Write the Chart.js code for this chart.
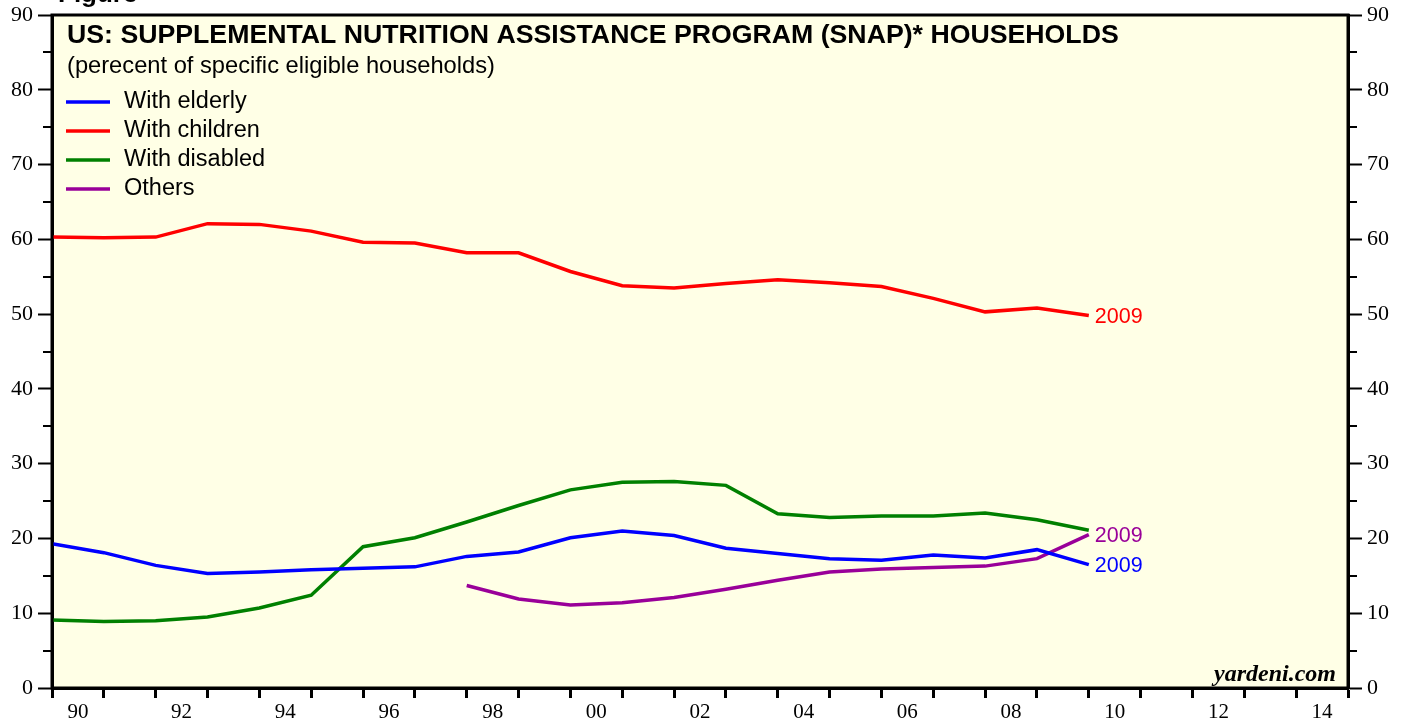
<!DOCTYPE html>
<html>
<head>
<meta charset="utf-8">
<script src="https://cdn.jsdelivr.net/npm/chart.js@4"></script>
<style>
  body { margin: 0; background: #fff; }
  canvas { display: block; }
</style>
</head>
<body>
<canvas id="snapChart" width="1408" height="719"></canvas>
<script>
// data years (each value is plotted at the end of its year)
const years = [1989, 1990, 1991, 1992, 1993, 1994, 1995, 1996, 1997, 1998, 1999,
               2000, 2001, 2002, 2003, 2004, 2005, 2006, 2007, 2008, 2009];

const withElderly = [19.3, 18.1, 16.4, 15.3, 15.5, 15.8, 16.0, 16.2, 17.6, 18.2, 20.1,
                     21.0, 20.4, 18.7, 18.0, 17.3, 17.1, 17.8, 17.4, 18.5, 16.5];
const withChildren = [60.3, 60.2, 60.3, 62.1, 62.0, 61.1, 59.6, 59.5, 58.2, 58.2, 55.7,
                      53.8, 53.5, 54.1, 54.6, 54.2, 53.7, 52.1, 50.3, 50.8, 49.8];
const withDisabled = [9.1, 8.9, 9.0, 9.5, 10.7, 12.4, 18.9, 20.1, 22.2, 24.4, 26.5,
                      27.5, 27.6, 27.1, 23.3, 22.8, 23.0, 23.0, 23.4, 22.5, 21.1];
const others = [null, null, null, null, null, null, null, null, 13.7, 11.9, 11.1,
                11.4, 12.1, 13.2, 14.4, 15.5, 15.9, 16.1, 16.3, 17.3, 20.5];

const xLabelYears = [1990, 1992, 1994, 1996, 1998, 2000, 2002, 2004, 2006, 2008, 2010, 2012, 2014];
const yTicks = [0, 10, 20, 30, 40, 50, 60, 70, 80, 90];

const titleText = 'US: SUPPLEMENTAL NUTRITION ASSISTANCE PROGRAM (SNAP)* HOUSEHOLDS';
const subtitleText = '(perecent of specific eligible households)';

function toPoints(values) {
    return values.map((v, i) => ({ x: years[i] + 1, y: v }));
}

function line(label, values, color, endLabel) {
    return {
        label: label,
        data: toPoints(values),
        borderColor: color,
        backgroundColor: color,
        borderWidth: 3.5,
        pointRadius: 0,
        tension: 0,
        spanGaps: false,
        endLabel: endLabel
    };
}

const serif = 'Liberation Serif, Times New Roman, serif';
const sans = 'Liberation Sans, Arial, sans-serif';

// background, border, minor ticks, title, legend, end labels
const decorPlugin = {
    id: 'decor',
    beforeDraw(chart) {
        const ctx = chart.ctx;
        const a = chart.chartArea;
        ctx.save();
        ctx.fillStyle = '#ffffff';
        ctx.fillRect(0, 0, chart.width, chart.height);
        ctx.fillStyle = 'rgb(255,255,230)';
        ctx.fillRect(a.left, a.top, a.right - a.left, a.bottom - a.top);
        // cut off figure caption at the very top
        ctx.fillStyle = '#000';
        ctx.font = 'bold 26px ' + sans;
        ctx.textBaseline = 'alphabetic';
        ctx.fillText('Figure', 58, 2);
        ctx.restore();
    },
    afterDatasetsDraw(chart) {
        const ctx = chart.ctx;
        const a = chart.chartArea;
        const ys = chart.scales.y;
        ctx.save();

        // frame
        ctx.strokeStyle = '#000';
        ctx.lineWidth = 3;
        ctx.strokeRect(a.left, a.top, a.right - a.left, a.bottom - a.top);

        // minor y ticks
        ctx.lineWidth = 2;
        for (let v = 5; v < 90; v += 10) {
            const py = Math.round(ys.getPixelForValue(v));
            ctx.beginPath();
            ctx.moveTo(a.left - 9, py);
            ctx.lineTo(a.left, py);
            ctx.moveTo(a.right, py);
            ctx.lineTo(a.right + 9, py);
            ctx.stroke();
        }

        // title + subtitle
        ctx.fillStyle = '#000';
        ctx.textBaseline = 'middle';
        ctx.textAlign = 'left';
        ctx.font = 'bold 26.7px ' + sans;
        ctx.fillText(titleText, a.left + 15, 36);
        ctx.font = '23.7px ' + sans;
        ctx.fillText(subtitleText, a.left + 15, 66);

        // legend
        chart.data.datasets.forEach((ds, i) => {
            const yy = 102 + i * 29;
            ctx.strokeStyle = ds.borderColor;
            ctx.lineWidth = 3.5;
            ctx.beginPath();
            ctx.moveTo(a.left + 14, yy);
            ctx.lineTo(a.left + 58, yy);
            ctx.stroke();
            ctx.fillStyle = '#000';
            ctx.font = '23.5px ' + sans;
            ctx.fillText(ds.label, a.left + 72, yy);
        });

        // end-of-line year labels
        ctx.font = '21.5px ' + sans;
        chart.data.datasets.forEach((ds, i) => {
            if (!ds.endLabel) return;
            const meta = chart.getDatasetMeta(i);
            const last = meta.data[meta.data.length - 1];
            ctx.fillStyle = ds.borderColor;
            ctx.fillText(String(years[years.length - 1]), last.x + 6, last.y + 1);
        });

        // watermark
        ctx.fillStyle = '#000';
        ctx.font = 'italic bold 24px ' + serif;
        ctx.textAlign = 'right';
        ctx.textBaseline = 'alphabetic';
        ctx.fillText('yardeni.com', a.right - 12, a.bottom - 7);
        ctx.restore();
    }
};

const yAxis = (position, width) => ({
    type: 'linear',
    position: position,
    min: 0,
    max: 90,
    afterBuildTicks: s => { s.ticks = yTicks.map(v => ({ value: v })); },
    ticks: {
        color: '#000',
        padding: 5,
        font: { family: serif, size: 22 }
    },
    grid: {
        drawOnChartArea: false,
        drawTicks: true,
        tickLength: 14,
        tickWidth: 2,
        tickColor: '#000'
    },
    border: { display: true, color: '#000', width: 3 },
    afterFit: s => {
        s.width = width;
        s.paddingTop = 0;
        s.paddingBottom = 0;
    }
});

const ctxSnap = document.getElementById('snapChart').getContext('2d');
new Chart(ctxSnap, {
    type: 'line',
    data: {
        datasets: [
            line('With elderly', withElderly, '#0000ff', true),
            line('With children', withChildren, '#ff0000', true),
            line('With disabled', withDisabled, '#008000', false),
            line('Others', others, '#990099', true)
        ]
    },
    options: {
        responsive: false,
        animation: false,
        devicePixelRatio: 1,
        layout: { padding: { top: 15, left: 0, right: 0, bottom: 0 } },
        plugins: {
            legend: { display: false },
            tooltip: { enabled: false },
            title: { display: false }
        },
        scales: {
            x: {
                type: 'linear',
                min: 1990,
                max: 2015,
                afterBuildTicks: s => {
                    const t = [];
                    for (let v = 1990; v <= 2015; v += 0.5) t.push({ value: v });
                    s.ticks = t;
                },
                ticks: {
                    autoSkip: false,
                    maxRotation: 0,
                    minRotation: 0,
                    padding: 2,
                    color: '#000',
                    font: { family: serif, size: 21 },
                    callback: v => {
                        const yr = v - 0.5;
                        return xLabelYears.includes(yr) ? String(yr % 100).padStart(2, '0') : '';
                    }
                },
                grid: {
                    drawOnChartArea: false,
                    drawTicks: true,
                    tickLength: 10,
                    tickWidth: 3,
                    tickColor: c => (c.tick && c.tick.value % 1 === 0) ? '#000' : 'rgba(0,0,0,0)'
                },
                border: { display: true, color: '#000', width: 3 },
                afterFit: s => {
                    s.height = 31;
                    s.paddingLeft = 0;
                    s.paddingRight = 0;
                }
            },
            y: yAxis('left', 52),
            y2: yAxis('right', 60)
        }
    },
    plugins: [decorPlugin]
});
</script>
</body>
</html>
